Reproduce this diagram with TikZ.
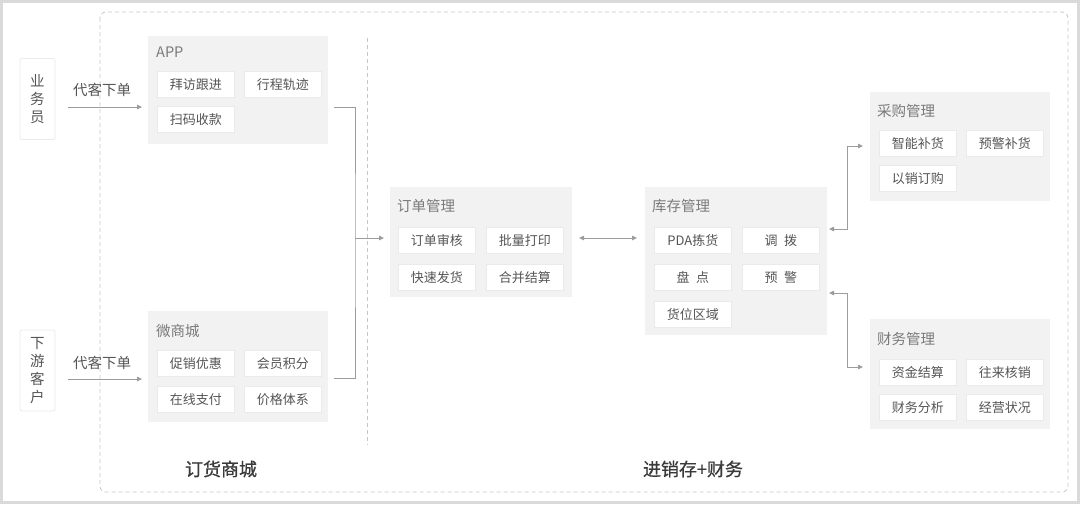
\documentclass[tikz,border=0pt]{standalone}
\usepackage{fontspec}
\setmainfont{Noto Sans CJK SC}
\newfontfamily\grouplabelfont[FakeBold=0.8]{Noto Sans CJK SC}
\usetikzlibrary{arrows.meta}
\definecolor{panelgray}{HTML}{F2F2F2}
\definecolor{linegray}{HTML}{9C9C9C}
\definecolor{txtgray}{HTML}{555555}
\definecolor{ttlgray}{HTML}{7A7A7A}
\definecolor{dashgray}{HTML}{C6C6C6}
\definecolor{framegray}{HTML}{DADADA}
\definecolor{itemborder}{HTML}{EAEAEA}
\definecolor{labeldark}{HTML}{3A3A3A}
\begin{document}
\begin{tikzpicture}[x=1pt,y=-1pt,
  panelbox/.style={fill=panelgray, anchor=north west, inner sep=0pt, minimum width=180pt},
  item/.style={fill=white, draw=itemborder, line width=0.6pt, anchor=north west, inner sep=0pt,
    minimum width=77pt, minimum height=26pt, text=txtgray, font=\fontsize{13}{13}\selectfont},
  paneltitle/.style={anchor=west, inner sep=0pt, text=ttlgray, font=\fontsize{14.5}{14.5}\selectfont},
  sidebox/.style={fill=white, draw=itemborder, line width=0.8pt, rounded corners=2pt, inner sep=0pt,
    minimum width=35pt, align=center, text=txtgray, font=\fontsize{14.5}{18}\selectfont},
  edgelabel/.style={inner sep=0pt, text=txtgray, font=\fontsize{14.5}{14.5}\selectfont},
  grouplabel/.style={inner sep=0pt, text=labeldark, font=\grouplabelfont\fontsize{18}{18}\selectfont},
  conn/.style={draw=linegray, line width=0.8pt},
  arr/.style={conn, -{Triangle[length=5pt,width=4.5pt]}},
  darr/.style={conn, {Triangle[length=5pt,width=4.5pt]}-{Triangle[length=5pt,width=4.5pt]}},
  dashline/.style={draw=dashgray, line width=0.8pt, dash pattern=on 4pt off 3pt}
]
\useasboundingbox (0,0) rectangle (1080,504);
% outer frame
\draw[framegray, line width=3pt] (1.5,1.5) rectangle (1078.5,502.5);
% dashed region
\draw[dashline, rounded corners=6pt] (100,12) rectangle (1068,492);
\draw[dashline] (367,38) -- (367,445);

% side actors
\node[sidebox, minimum height=81pt] (ywy) at (37.5,99) {业\\务\\员};
\node[sidebox, minimum height=81pt] (xykh) at (37.5,370.5) {下\\游\\客\\户};

% APP panel
\node[panelbox, minimum height=108pt] (app) at (148,36) {};
\node[paneltitle] (appt) at (156,52) {APP};
\node[item] (a1) at (157,71) {拜访跟进};
\node[item] (a2) at (244,71) {行程轨迹};
\node[item] (a3) at (157,106) {扫码收款};

% 微商城 panel
\node[panelbox, minimum height=111pt] (wsc) at (148,311) {};
\node[paneltitle] (wsct) at (156,331) {微商城};
\node[item] (w1) at (157,350) {促销优惠};
\node[item] (w2) at (244,350) {会员积分};
\node[item] (w3) at (157,386) {在线支付};
\node[item] (w4) at (244,386) {价格体系};

% 订单管理 panel
\node[panelbox, minimum width=182pt, minimum height=110pt] (ddgl) at (390,187) {};
\node[paneltitle] (ddglt) at (397,206) {订单管理};
\node[item] (d1) at (398,227) {订单审核};
\node[item] (d2) at (486,227) {批量打印};
\node[item] (d3) at (398,264) {快速发货};
\node[item] (d4) at (486,264) {合并结算};

% 库存管理 panel
\node[panelbox, minimum width=182pt, minimum height=148pt] (kcgl) at (645,187) {};
\node[paneltitle] (kcglt) at (652,206) {库存管理};
\node[item] (k1) at (654,227) {PDA拣货};
\node[item] (k2) at (742,227) {调\hspace{0.5em}拨};
\node[item] (k3) at (654,264) {盘\hspace{0.5em}点};
\node[item] (k4) at (742,264) {预\hspace{0.5em}警};
\node[item] (k5) at (654,301) {货位区域};

% 采购管理 panel
\node[panelbox, minimum height=109pt] (cggl) at (870,92) {};
\node[paneltitle] (cgglt) at (877,111) {采购管理};
\node[item] (c1) at (879,130) {智能补货};
\node[item] (c2) at (966,130) {预警补货};
\node[item] (c3) at (879,165) {以销订购};

% 财务管理 panel
\node[panelbox, minimum height=110pt] (cwgl) at (870,319) {};
\node[paneltitle] (cwglt) at (877,339) {财务管理};
\node[item] (f1) at (879,359) {资金结算};
\node[item] (f2) at (966,359) {往来核销};
\node[item] (f3) at (879,394) {财务分析};
\node[item] (f4) at (966,394) {经营状况};

% labels
\node[edgelabel] (lab1) at (102,90) {代客下单};
\node[edgelabel] (lab2) at (102,363) {代客下单};
\node[grouplabel] (g1) at (221,469) {订货商城};
\node[grouplabel] (g2) at (693,469) {进销存+财务};

% connector coordinates
\coordinate (p1s) at (68,107);
\coordinate (p1e) at (142,107);
\coordinate (p2s) at (68,379);
\coordinate (p2e) at (142,379);
\coordinate (jA) at (334,107);
\coordinate (jB) at (334,378);
\coordinate (jx) at (355,238);
\coordinate (jin) at (384,238);
\coordinate (mL) at (579,238);
\coordinate (mR) at (637,238);
\coordinate (u1) at (829,229);
\coordinate (u2) at (863,146);
\coordinate (l1) at (829,293);
\coordinate (l2) at (863,367);

% connectors
\draw[arr] (p1s) -- (p1e);
\draw[arr] (p2s) -- (p2e);
\draw[conn] (jA) -| (jx) |- (jB);
\draw[arr] (jx) -- (jin);
\draw[darr] (mL) -- (mR);
\draw[darr] (u1) -- ++(18,0) |- (u2);
\draw[darr] (l1) -- ++(18,0) |- (l2);
\end{tikzpicture}
\end{document}
